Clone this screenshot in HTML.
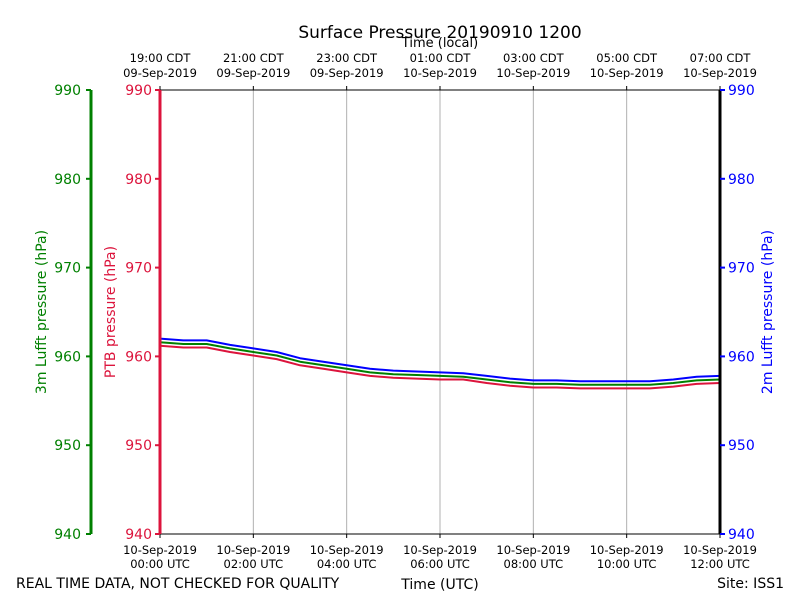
<!DOCTYPE html>
<html><head><meta charset="utf-8"><style>
body{margin:0;background:#fff;}
svg{font-family:"DejaVu Sans","Liberation Sans",sans-serif;}
</style></head><body>
<svg id="chart" width="800" height="600" xmlns="http://www.w3.org/2000/svg">
<text x="440" y="38" font-size="17" text-anchor="middle">Surface Pressure 20190910 1200</text>
<text x="440" y="47" font-size="13" text-anchor="middle">Time (local)</text>
<g id="grid"></g>
<g id="lines"></g>
<g id="axes"></g>
<text x="16" y="588" font-size="14">REAL TIME DATA, NOT CHECKED FOR QUALITY</text>
<text x="440" y="589" font-size="14" text-anchor="middle">Time (UTC)</text>
<text x="784" y="588" font-size="14" text-anchor="end">Site: ISS1</text>
<text transform="translate(46,312) rotate(-90)" font-size="14" fill="green" text-anchor="middle">3m Lufft pressure (hPa)</text>
<text transform="translate(115,312) rotate(-90)" font-size="14" fill="crimson" text-anchor="middle">PTB pressure (hPa)</text>
<text transform="translate(772,312) rotate(-90)" font-size="14" fill="blue" text-anchor="middle">2m Lufft pressure (hPa)</text>
</svg>
<script>
const hours=[0,0.5,1,1.5,2,2.5,3,3.5,4,4.5,5,5.5,6,6.5,7,7.5,8,8.5,9,9.5,10,10.5,11,11.5,12];
const blue=[962.0,961.8,961.8,961.3,960.9,960.5,959.8,959.4,959.0,958.6,958.4,958.3,958.2,958.1,957.8,957.5,957.3,957.3,957.2,957.2,957.2,957.2,957.4,957.7,957.8];
const green=[961.6,961.4,961.4,960.9,960.5,960.1,959.4,959.0,958.6,958.2,958.0,957.9,957.8,957.7,957.4,957.1,956.9,956.9,956.8,956.8,956.8,956.8,957.0,957.3,957.4];
const red=[961.2,961.0,961.0,960.5,960.1,959.7,959.0,958.6,958.2,957.8,957.6,957.5,957.4,957.4,957.0,956.7,956.5,956.5,956.4,956.4,956.4,956.4,956.6,956.9,957.0];
const yTicks=[940,950,960,970,980,990];
const xTickHours=[0,2,4,6,8,10,12];
const utcLabels=["00:00 UTC","02:00 UTC","04:00 UTC","06:00 UTC","08:00 UTC","10:00 UTC","12:00 UTC"];
const utcDates=["10-Sep-2019","10-Sep-2019","10-Sep-2019","10-Sep-2019","10-Sep-2019","10-Sep-2019","10-Sep-2019"];
const localLabels=["19:00 CDT","21:00 CDT","23:00 CDT","01:00 CDT","03:00 CDT","05:00 CDT","07:00 CDT"];
const localDates=["09-Sep-2019","09-Sep-2019","09-Sep-2019","10-Sep-2019","10-Sep-2019","10-Sep-2019","10-Sep-2019"];
const NS="http://www.w3.org/2000/svg";
const L=160,R=720,T=90,B=534;
const xs=h=>L+(h-0)/12*(R-L);
const ys=p=>B-(p-940)/50*(B-T);
function mk(tag,attrs,parent,text){const e=document.createElementNS(NS,tag);for(const k in attrs)e.setAttribute(k,attrs[k]);if(text!==undefined)e.textContent=text;parent.appendChild(e);return e;}
const grid=document.getElementById('grid'),lines=document.getElementById('lines'),axes=document.getElementById('axes');
xTickHours.forEach((h,i)=>{
  const x=xs(h);
  if(i>0&&i<xTickHours.length-1){const g=mk('line',{x1:x,x2:x,y1:T,y2:B,stroke:'#b0b0b0','stroke-width':1},grid);
  
  }
  mk('line',{x1:x,x2:x,y1:B,y2:B+4,stroke:'#000'},axes);
  mk('line',{x1:x,x2:x,y1:T,y2:T-4,stroke:'#000'},axes);
  const t1=mk('text',{x:x,y:B+20,'font-size':11.5,'text-anchor':'middle'},axes,utcDates[i]);
  
  
  const t2=mk('text',{x:x,y:B+34,'font-size':11.5,'text-anchor':'middle'},axes,utcLabels[i]);
  
  
  const t3=mk('text',{x:x,y:62,'font-size':11.5,'text-anchor':'middle'},axes,localLabels[i]);
  
  
  const t4=mk('text',{x:x,y:77,'font-size':11.5,'text-anchor':'middle'},axes,localDates[i]);
  
  
});
function series(vals,color,name){
  const d=vals.map((v,i)=>(i?'L':'M')+xs(hours[i]).toFixed(1)+','+ys(v).toFixed(1)).join(' ');
  const p=mk('path',{d:d,fill:'none',stroke:color,'stroke-width':2,'stroke-linejoin':'round'},lines);
  
  
}
series(red,'crimson','ptb-pressure-line');
series(green,'green','lufft-3m-line');
series(blue,'blue','lufft-2m-line');
mk('line',{x1:L,x2:R,y1:T,y2:T,stroke:'#000','stroke-width':1},axes);
mk('line',{x1:L,x2:R,y1:B,y2:B,stroke:'#000','stroke-width':1},axes);
mk('line',{x1:L,x2:L,y1:T,y2:B,stroke:'crimson','stroke-width':3},axes);
mk('line',{x1:R,x2:R,y1:T,y2:B,stroke:'#000','stroke-width':3},axes);
mk('line',{x1:91,x2:91,y1:T,y2:B,stroke:'green','stroke-width':3},axes);
yTicks.forEach(v=>{
  const y=ys(v);
  mk('line',{x1:L-5,x2:L,y1:y,y2:y,stroke:'crimson','stroke-width':2},axes);
  const a=mk('text',{x:L-8,y:y+5,'font-size':14,fill:'crimson','text-anchor':'end'},axes,v);
  
  
  mk('line',{x1:86,x2:91,y1:y,y2:y,stroke:'green','stroke-width':2},axes);
  const b=mk('text',{x:81,y:y+5,'font-size':14,fill:'green','text-anchor':'end'},axes,v);
  
  
  mk('line',{x1:R,x2:R+5,y1:y,y2:y,stroke:'blue','stroke-width':2},axes);
  const c=mk('text',{x:R+8,y:y+5,'font-size':14,fill:'blue'},axes,v);
  
  
});
</script>
</body></html>
